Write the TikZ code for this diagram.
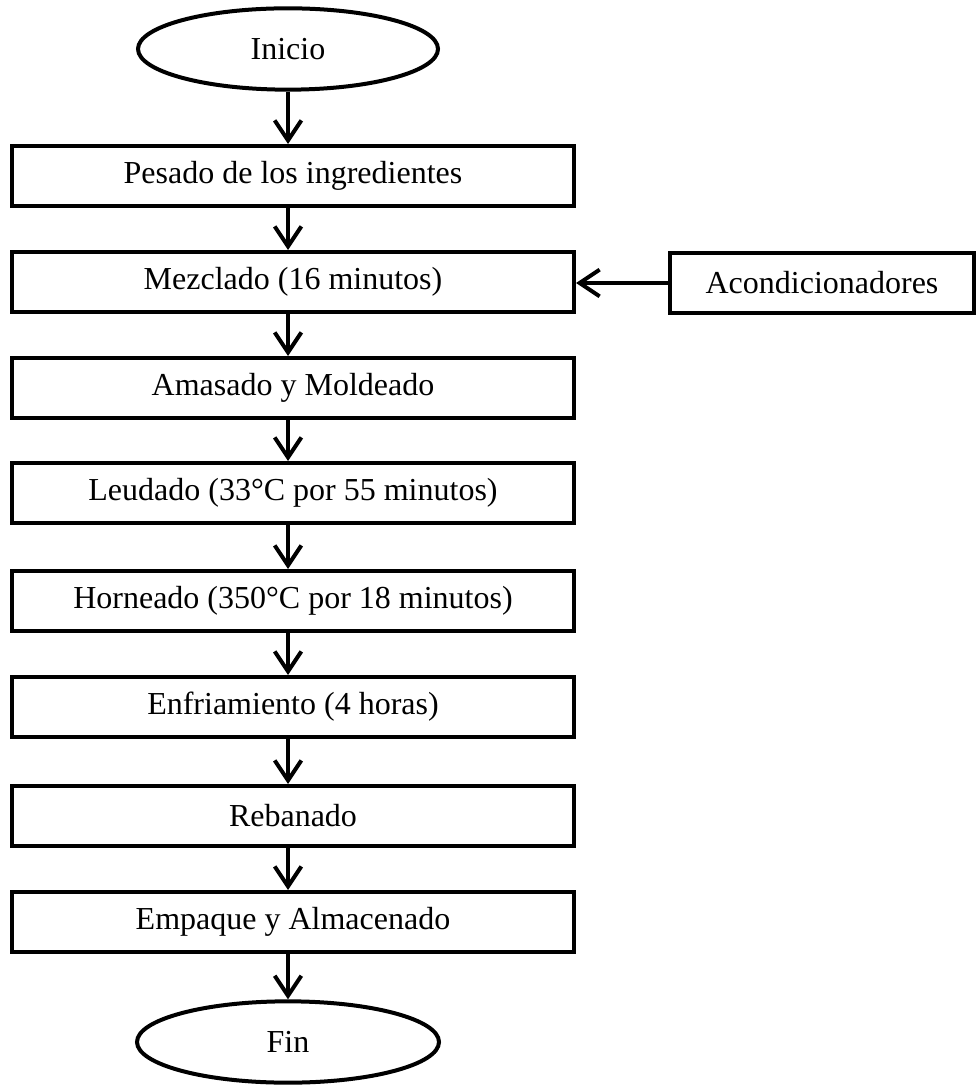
\documentclass[tikz,border=0pt]{standalone}
\usepackage{fontspec}
\setmainfont{Liberation Serif}
\usetikzlibrary{shapes.geometric,arrows.meta}
\tikzset{
  paso/.style={draw, line width=1.5pt, minimum width=210.75pt, minimum height=22.5pt, inner sep=0pt, font=\fontsize{12}{14}\selectfont},
  extremo/.style={draw, ellipse, line width=1.5pt, minimum width=112.5pt, minimum height=30.5pt, inner sep=0pt, font=\fontsize{12}{14}\selectfont},
  flecha/.style={line width=1.5pt, -{Straight Barb[length=7.5pt,width=10pt,line width=1.5pt]}}
}
\begin{document}
\begin{tikzpicture}[x=0.375pt, y=-0.375pt]
  \useasboundingbox (0,0) rectangle (975,1085);
  % inicio y fin
  \node[extremo] (inicio) at (288,49) {Inicio};
  \node[extremo, minimum width=113.25pt] (fin) at (288,1042) {Fin};

  % pasos del proceso
  \node[paso] (pesado)   at (293,176) {Pesado de los ingredientes};
  \node[paso] (mezclado) at (293,282) {Mezclado (16 minutos)};
  \node[paso] (amasado)  at (293,388) {Amasado y Moldeado};
  \node[paso] (leudado)  at (293,493) {Leudado (33°C por 55 minutos)};
  \node[paso] (horneado) at (293,601) {Horneado (350°C por 18 minutos)};
  \node[paso] (enfriado) at (293,707) {Enfriamiento (4 horas)};
  \node[paso] (rebanado) at (293,816) {Rebanado};
  \node[paso] (empaque)  at (293,922) {Empaque y Almacenado};

  \node[paso, minimum width=114pt] (acond) at (822,283) {Acondicionadores};

  \foreach \a/\b in {inicio/pesado, pesado/mezclado, mezclado/amasado, amasado/leudado,
                     leudado/horneado, horneado/enfriado, enfriado/rebanado,
                     rebanado/empaque, empaque/fin}
    \draw[flecha] (\a.south -| inicio) -- (\b.north -| inicio);
  \draw[flecha] (acond.west) -- (mezclado.east |- acond.west);
\end{tikzpicture}
\end{document}
